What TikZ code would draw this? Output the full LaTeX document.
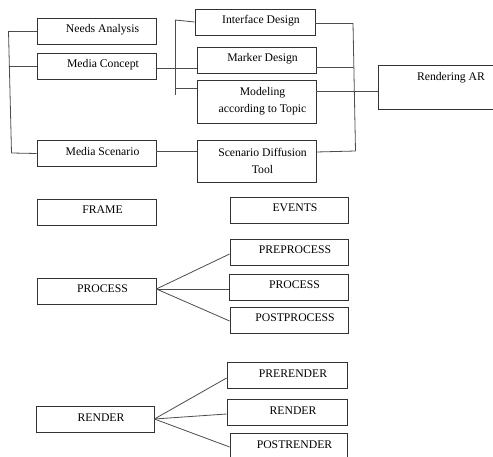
\documentclass[tikz,border=0pt]{standalone}
\usepackage{fontspec}
\setmainfont{Liberation Serif}
\usetikzlibrary{calc}

\begin{document}
\begin{tikzpicture}[x=1pt, y=-1pt,
    cell/.style={draw=black!80, line width=0.8pt, minimum width=119pt, minimum height=26pt, inner sep=0pt,
      font=\fontsize{11.7}{17}\selectfont, execute at begin node={\hspace*{12pt}}},
    box/.style={cell, text height=15pt, text depth=11pt},
    tallbox/.style={cell, minimum height=43pt, align=center},
    link/.style={black!70, line width=0.8pt}]
  \useasboundingbox (0,0) rectangle (493,457);
  %Boxes of the first chart
  \node[box] (needs) at (96.5,31) {Needs Analysis};
  \node[box] (concept) at (97,66) {Media Concept};
  \node[box] (scenario) at (96.5,153.5) {Media Scenario};
  \node[box, minimum width=120pt] (iface) at (255,22) {Interface Design};
  \node[box] (marker) at (256.5,60) {Marker Design};
  \node[tallbox] (modeling) at (256.5,101.5) {Modeling\\according to Topic};
  \node[tallbox, minimum height=42pt] (diffusion) at (256.5,161) {Scenario Diffusion\\Tool};
  \node[box, minimum width=150pt, text height=16pt, text depth=28pt,
    execute at begin node={\hspace*{-16pt}}] (ar) at (453,87) {Rendering AR};
  %Bracket corners
  \coordinate (lt) at (8.5,31);
  \coordinate (lb) at (11.5,153);
  \coordinate (mt) at (175,20);
  \coordinate (mb) at (175,95);
  \coordinate (rt) at (353,23);
  \coordinate (rb) at (355.5,151);
  \coordinate (m3) at ([yshift=13pt]modeling.west);
  \coordinate (r2) at ([yshift=-7pt]marker.east);
  \coordinate (r4) at ([yshift=10.5pt]modeling.east);
  %Draw lines
  \draw[link] (lt) -- (lb);
  \draw[link] (lt) -- (needs.west);
  \draw[link] (concept.west -| lt) -- (concept.west);
  \draw[link] (lb) -- (scenario.west);
  \draw[link] (mt) -- (mb);
  \draw[link] (mt) -- (iface.west);
  \draw[link] ([yshift=-2pt]concept.east) -- ([yshift=-8pt]marker.west);
  \draw[link] (m3 -| mt) -- (m3);
  \draw[link] ([yshift=2.5pt]scenario.east) -- ([yshift=10pt]diffusion.west);
  \draw[link] (rt) -- (rb);
  \draw[link] ([yshift=-1pt]iface.east) -- (rt);
  \draw[link] (r2) -- (r2 -| rt);
  \draw[link] ([yshift=9pt]diffusion.east) -- (rb);
  \draw[link] (r4) -- (r4 -| ar.west);

  %Boxes of the second chart
  \node[box] (frame) at (96.5,212) {FRAME};
  \node[box, minimum width=118pt] (events) at (289,210) {EVENTS};
  \node[box, minimum width=118pt] (preproc) at (289,252) {PREPROCESS};
  \node[box] (procR) at (288.5,287) {PROCESS};
  \node[box, minimum width=118pt] (postproc) at (289,320) {POSTPROCESS};
  \node[box] (procL) at (96.5,291) {PROCESS};
  \node[box, minimum width=120pt] (prerender) at (287,375) {PRERENDER};
  \node[box, minimum width=120pt] (renderR) at (287,412) {RENDER};
  \node[box, minimum width=117pt] (postrender) at (288.5,446) {POSTRENDER};
  \node[box, minimum width=118pt] (renderL) at (95,419.5) {RENDER};
  %Draw fans
  \foreach \n/\s in {preproc/-2pt, procR/-2pt, postproc/-1pt}
    \draw[link] ([yshift=2pt]procL.east) -- ([yshift=\s]\n.west);
  \foreach \n/\s in {prerender/-3pt, renderR/-2pt, postrender/-1pt}
    \draw[link] ([yshift=0.5pt]renderL.east) -- ([yshift=\s]\n.west);
\end{tikzpicture}
\end{document}
